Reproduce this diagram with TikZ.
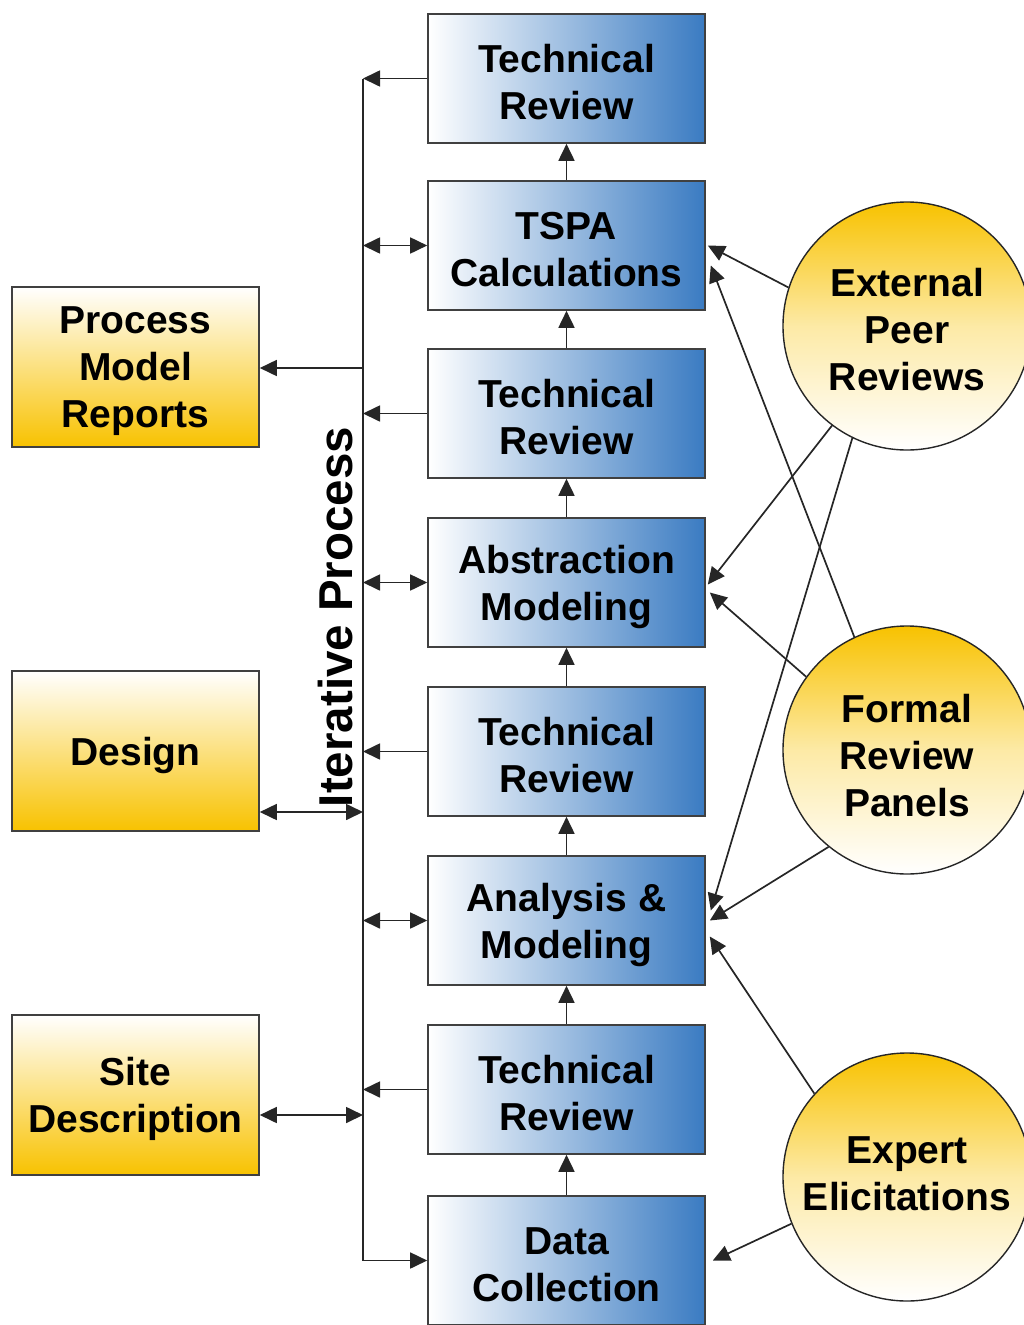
\documentclass[tikz,border=0pt]{standalone}
\usepackage{fontspec}
\setmainfont{Liberation Sans}
\usetikzlibrary{arrows.meta}
\definecolor{bxblue}{HTML}{3A7BC2}
\definecolor{gold}{HTML}{F8C200}
\tikzset{
  bluebox/.style={draw=black!75, line width=1.6pt, left color=white, right color=bxblue,
    minimum width=277pt, minimum height=129pt, inner sep=0pt},
  goldbox/.style={draw=black!75, line width=1.6pt, top color=white, bottom color=gold,
    minimum width=247pt, minimum height=160pt, inner sep=0pt},
  circ/.style={circle, draw=black!85, line width=1.4pt, top color=gold, bottom color=white,
    middle color=gold!35, minimum size=248pt, inner sep=0pt},
  txt/.style={align=center, inner sep=0pt, font=\bfseries\fontsize{39}{47}\selectfont},
  tip/.tip={Triangle[length=17pt,width=16pt]},
  conn/.style={line width=1.7pt, draw=black!85, -tip},
  conn2/.style={line width=1.7pt, draw=black!85, tip-tip},
  vline/.style={line width=1.7pt, draw=black!85},
}
\begin{document}
\begin{tikzpicture}[x=1pt,y=-1pt]
\useasboundingbox (0,0) rectangle (1023,1325);
% blue column
\node[bluebox] (b1) at (566.5,78.5) {};
\node[bluebox] (b2) at (566.5,245.5) {};
\node[bluebox] (b3) at (566.5,413.5) {};
\node[bluebox] (b4) at (566.5,582.5) {};
\node[bluebox] (b5) at (566.5,751.5) {};
\node[bluebox] (b6) at (566.5,920.5) {};
\node[bluebox] (b7) at (566.5,1089.5) {};
\node[bluebox] (b8) at (566.5,1260.5) {};
\node[txt] (b1t) at ([yshift=-4pt]b1.center) {Technical\\Review};
\node[txt] (b2t) at ([yshift=-4pt]b2.center) {TSPA\\Calculations};
\node[txt] (b3t) at ([yshift=-4pt]b3.center) {Technical\\Review};
\node[txt] (b4t) at ([yshift=-4pt]b4.center) {Abstraction\\Modeling};
\node[txt] (b5t) at ([yshift=-4pt]b5.center) {Technical\\Review};
\node[txt] (b6t) at ([yshift=-4pt]b6.center) {Analysis \&\\Modeling};
\node[txt] (b7t) at ([yshift=-4pt]b7.center) {Technical\\Review};
\node[txt] (b8t) at ([yshift=-4pt]b8.center) {Data\\Collection};
% upward arrows
\foreach \a/\b in {b2/b1,b3/b2,b4/b3,b5/b4,b6/b5,b7/b6,b8/b7}
  \draw[conn] (\a.north) -- (\b.south);
% left boxes
\node[goldbox] (pmr) at (135.5,367) {};
\node[goldbox] (des) at (135.5,751) {};
\node[goldbox] (site) at (135.5,1095) {};
\node[txt] (pmrt) at ([yshift=-4pt]pmr.center) {Process\\Model\\Reports};
\node[txt] (dest) at ([yshift=-4pt]des.center) {Design};
\node[txt] (sitet) at ([yshift=-4pt]site.center) {Site\\Description};
% vertical line coordinates
\coordinate (v1) at (363,78.5);
\coordinate (v2) at (363,245.5);
\coordinate (vp) at (363,368);
\coordinate (v3) at (363,413.5);
\coordinate (v4) at (363,582.5);
\coordinate (v5) at (363,751.5);
\coordinate (vd) at (363,812);
\coordinate (v6) at (363,920.5);
\coordinate (v7) at (363,1089.5);
\coordinate (vs) at (363,1115);
\coordinate (v8) at (363,1260.5);
\draw[vline] (v1) -- (v8);
\draw[conn] (v8) -- (b8.west);
\foreach \b/\v in {b1/v1,b3/v3,b5/v5,b7/v7}
  \draw[conn] (\b.west) -- (\v);
\foreach \b/\v in {b2/v2,b4/v4,b6/v6}
  \draw[conn2] (\v) -- (\b.west);
\draw[conn] (vp) -- (pmr.east |- vp);
\draw[conn2] (des.east |- vd) -- (vd);
\draw[conn2] (site.east |- vs) -- (vs);
\node[rotate=90, inner sep=0pt, font=\bfseries\fontsize{47.5}{56}\selectfont] (it) at (336,617) {Iterative Process};
% circles
\node[circ] (epr) at (907,326) {};
\node[circ] (frp) at (907,750) {};
\node[circ] (ee) at (907,1177) {};
\node[txt] (eprt) at ([yshift=-4pt]epr.center) {External\\Peer\\Reviews};
\node[txt] (frpt) at ([yshift=-6pt]frp.center) {Formal\\Review\\Panels};
\node[txt] (eet) at ([yshift=3pt]ee.center) {Expert\\Elicitations};
% circle connectors
\draw[conn] (epr.162) -- ([xshift=2pt]b2.east);
\draw[conn] (frp.115) -- ([xshift=5pt,yshift=-20pt]b2.east);
\draw[conn] (epr.233) -- ([xshift=2pt,yshift=-2pt]b4.east);
\draw[conn] (epr.244) -- ([xshift=5pt,yshift=10pt]b6.east);
\draw[conn] (frp.144) -- ([xshift=4pt,yshift=-10pt]b4.east);
\draw[conn] (frp.231) -- ([xshift=4pt]b6.east);
\draw[conn] (ee.138) -- ([xshift=4pt,yshift=-16pt]b6.east);
\draw[conn] (ee.202) -- ([xshift=7pt]b8.east);
\end{tikzpicture}
\end{document}
